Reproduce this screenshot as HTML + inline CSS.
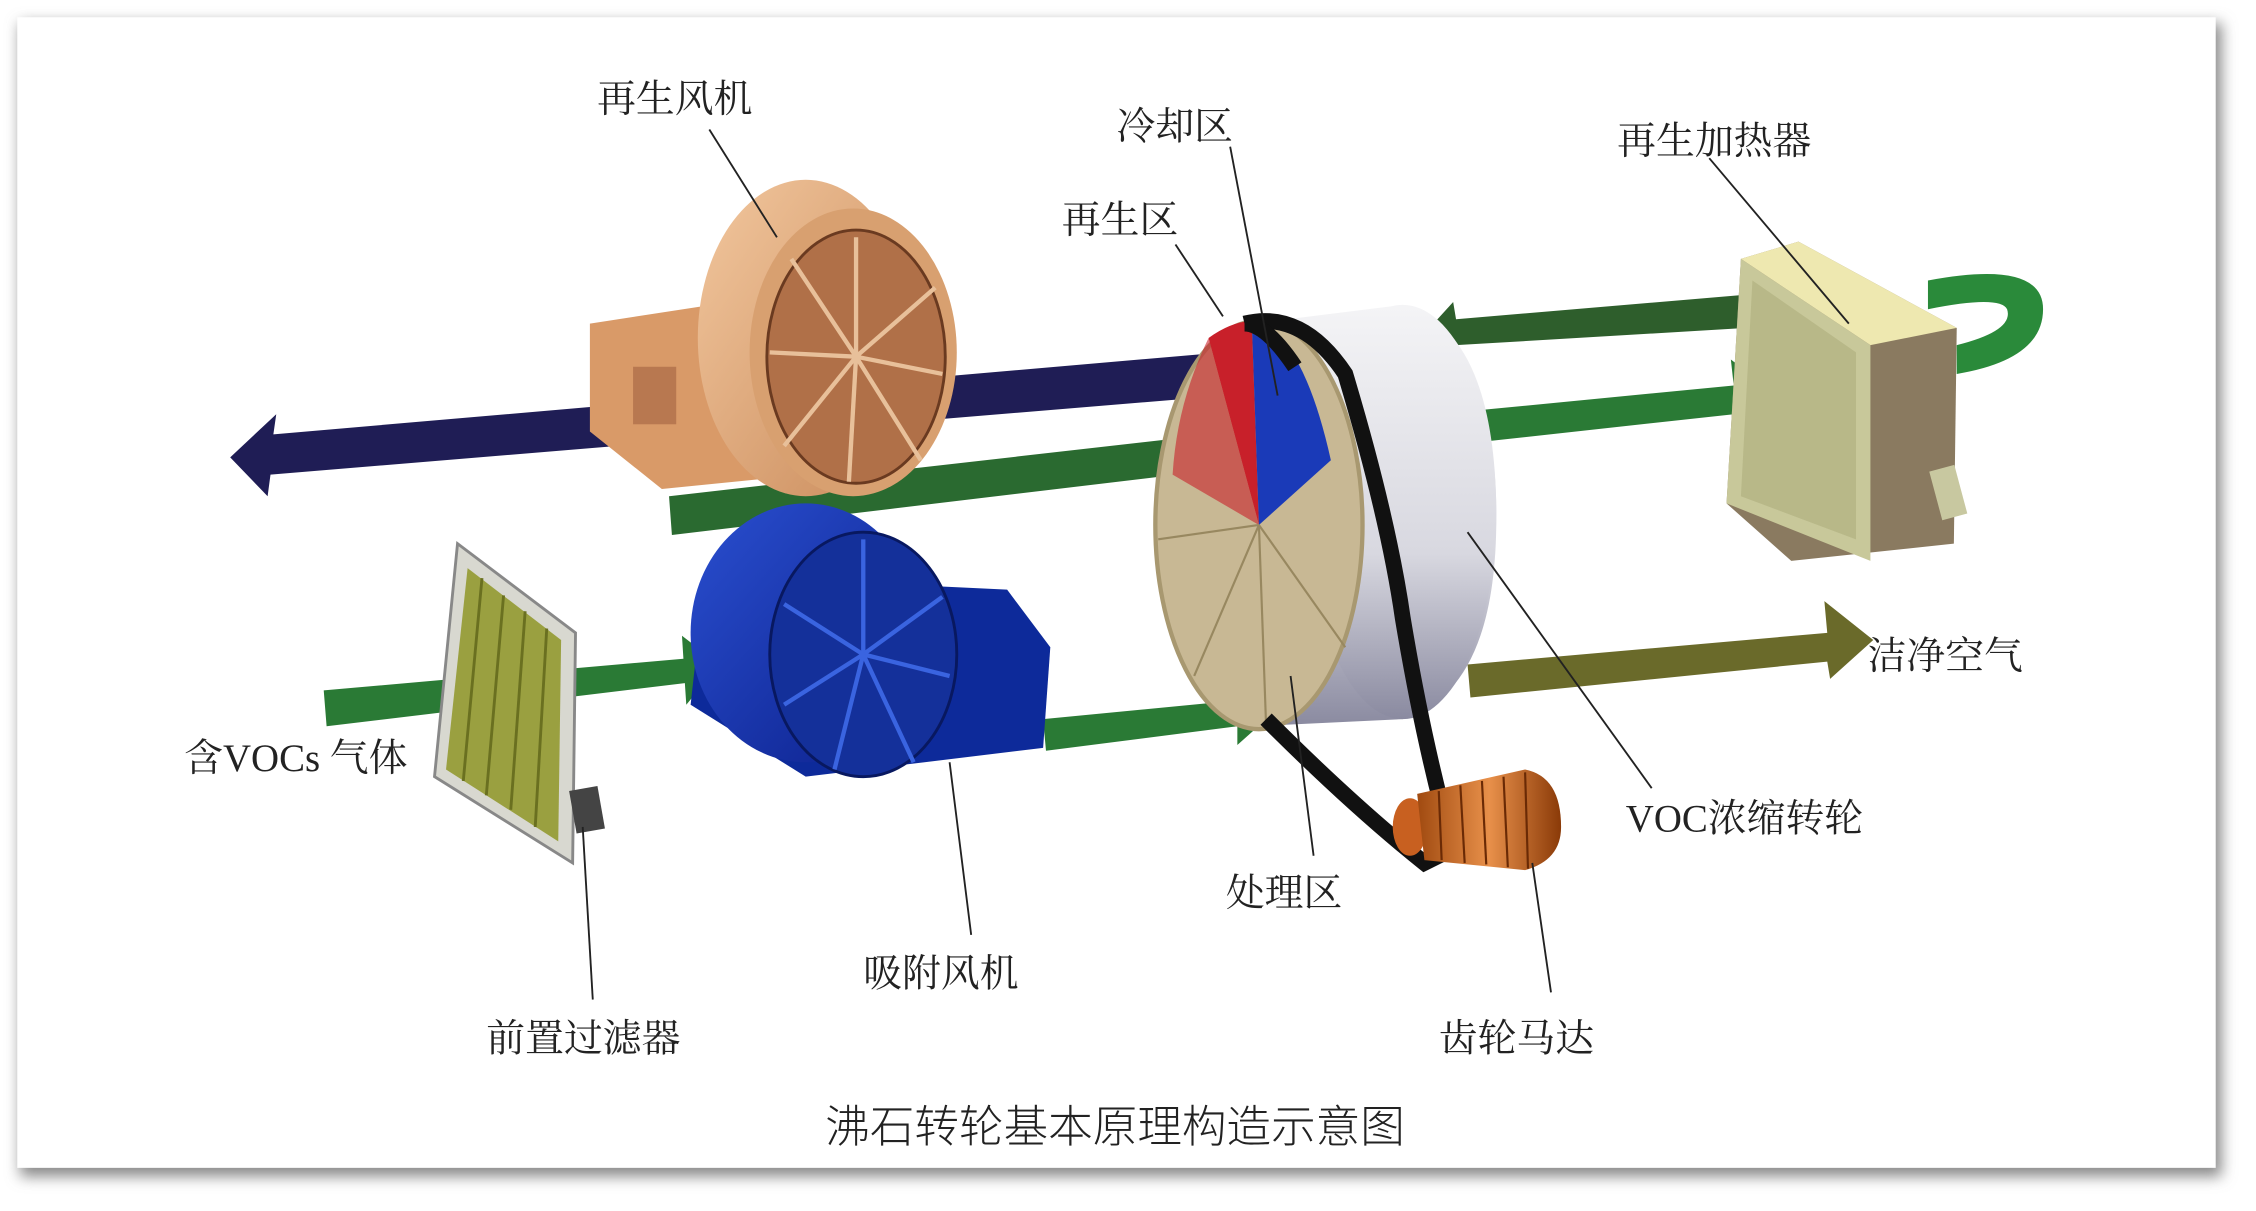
<!DOCTYPE html>
<html><head><meta charset="utf-8"><style>
html,body{margin:0;padding:0;background:#fff;}
svg{display:block;}
text{font-family:"Liberation Serif","Noto Serif CJK SC",serif;fill:#222;}
</style></head><body>
<svg width="2256" height="1211" viewBox="0 0 1568 842" preserveAspectRatio="none" xmlns="http://www.w3.org/2000/svg">
<defs>
<filter id="sh" x="-5%" y="-5%" width="110%" height="115%"><feGaussianBlur stdDeviation="5"/></filter>
<linearGradient id="cyl" x1="0" y1="0" x2="0" y2="1"><stop offset="0" stop-color="#f4f4f6"/><stop offset="0.6" stop-color="#d8d8e0"/><stop offset="1" stop-color="#8a8aa0"/></linearGradient>
<linearGradient id="org" x1="0" y1="0" x2="1" y2="1"><stop offset="0" stop-color="#f2c79e"/><stop offset="1" stop-color="#c98a5a"/></linearGradient>
<linearGradient id="blu" x1="0" y1="0" x2="1" y2="1"><stop offset="0" stop-color="#2a4fd0"/><stop offset="1" stop-color="#0b1f8a"/></linearGradient>
<linearGradient id="mot" x1="0" y1="0" x2="1" y2="0"><stop offset="0" stop-color="#a04a10"/><stop offset="0.5" stop-color="#e8904a"/><stop offset="1" stop-color="#8a3a08"/></linearGradient>
</defs>
<rect x="14" y="16" width="1530" height="802" fill="#888" filter="url(#sh)"/>
<rect x="12" y="12" width="1528" height="800" fill="#fff"/>

<polygon points="850,245 190,302 192,288 160,318 186,345 188,330 852,275" fill="#1f1d55"/>
<polygon points="465,345 860,300 858,286 882,308 860,338 860,325 467,372" fill="#2a6a30"/>
<polygon points="1212,205 1012,222 1010,210 990,232 1012,252 1012,240 1214,228" fill="#2e5e2c"/>
<polygon points="1030,285 1205,268 1203,250 1232,272 1206,298 1205,288 1032,307" fill="#2a7a35"/>
<polygon points="1020,462 1270,440 1268,418 1302,445 1272,472 1270,460 1022,485" fill="#6a6a2a"/>
<polygon points="225,480 475,458 474,442 500,462 477,490 476,475 227,505" fill="#2a7a35"/>
<polygon points="725,500 860,487 858,470 888,493 860,518 860,505 727,522" fill="#2a7a35"/>

<polygon points="410,225 540,205 560,330 460,340 410,300" fill="#d99a68"/>
<rect x="440" y="255" width="30" height="40" fill="#b87850"/>
<ellipse cx="560" cy="235" rx="75" ry="110" fill="url(#org)"/>
<ellipse cx="593" cy="245" rx="72" ry="100" fill="#d8a070"/>
<ellipse cx="595" cy="248" rx="62" ry="88" fill="#b07048" stroke="#6a3a20" stroke-width="2"/>
<g stroke="#e8c09a" stroke-width="3">
<line x1="595" y1="248" x2="595" y2="165"/><line x1="595" y1="248" x2="650" y2="200"/><line x1="595" y1="248" x2="655" y2="260"/><line x1="595" y1="248" x2="640" y2="320"/><line x1="595" y1="248" x2="590" y2="335"/><line x1="595" y1="248" x2="545" y2="310"/><line x1="595" y1="248" x2="535" y2="245"/><line x1="595" y1="248" x2="550" y2="180"/>
</g>

<polygon points="490,400 700,410 730,450 725,520 560,540 480,490" fill="#0d2a9a"/>
<ellipse cx="560" cy="440" rx="80" ry="90" fill="url(#blu)"/>
<ellipse cx="600" cy="455" rx="65" ry="85" fill="#14309a" stroke="#081860" stroke-width="2"/>
<g stroke="#3a64e0" stroke-width="3">
<line x1="600" y1="455" x2="600" y2="375"/><line x1="600" y1="455" x2="655" y2="415"/><line x1="600" y1="455" x2="660" y2="470"/><line x1="600" y1="455" x2="635" y2="530"/><line x1="600" y1="455" x2="580" y2="535"/><line x1="600" y1="455" x2="545" y2="490"/><line x1="600" y1="455" x2="545" y2="420"/>
</g>

<polygon points="318,378 400,440 398,600 302,540" fill="#d8d8d0" stroke="#888" stroke-width="2"/>
<polygon points="325,395 390,445 388,585 310,535" fill="#9aa040"/>
<g stroke="#6a7020" stroke-width="2">
<line x1="335" y1="402" x2="322" y2="543"/><line x1="350" y1="414" x2="338" y2="553"/><line x1="365" y1="425" x2="355" y2="563"/><line x1="380" y1="437" x2="372" y2="575"/>
</g>
<rect x="398" y="548" width="20" height="30" fill="#444" transform="rotate(-10 408 563)"/>

<path d="M870,225 L975,212 Q1040,230 1040,360 Q1040,480 975,500 L870,505 Z" fill="url(#cyl)"/>
<ellipse cx="975" cy="356" rx="65" ry="144" fill="url(#cyl)"/>
<ellipse cx="875" cy="365" rx="72" ry="142" fill="#c8b894" stroke="#a89870" stroke-width="3"/>
<path d="M875,365 L840,235 Q855,224 870,223 Z" fill="#c8202a"/>
<path d="M875,365 L870,223 Q905,230 925,320 Z" fill="#1a3ab8"/>
<path d="M875,365 L840,235 Q818,280 815,330 Z" fill="#c8202a" opacity="0.6"/>
<g stroke="#988860" stroke-width="1.5"><line x1="875" y1="365" x2="805" y2="375"/><line x1="875" y1="365" x2="830" y2="470"/><line x1="875" y1="365" x2="880" y2="505"/><line x1="875" y1="365" x2="935" y2="450"/></g>
<path d="M865,225 Q905,215 935,260 Q965,360 975,430 Q990,520 1010,590 L990,600 Q940,560 880,500" fill="none" stroke="#111" stroke-width="11"/>
<path d="M865,225 Q880,225 900,255" fill="none" stroke="#111" stroke-width="11"/>
<ellipse cx="980" cy="575" rx="12" ry="20" fill="#c86020"/>
<path d="M985,552 L1060,535 Q1085,540 1085,575 Q1085,598 1060,605 L990,598 Z" fill="url(#mot)"/>
<g stroke="#6a2a05" stroke-width="1.5"><line x1="1000" y1="550" x2="1002" y2="598"/><line x1="1015" y1="546" x2="1018" y2="600"/><line x1="1030" y1="543" x2="1033" y2="601"/><line x1="1045" y1="540" x2="1048" y2="603"/><line x1="1060" y1="537" x2="1062" y2="604"/></g>

<path d="M1340,195 Q1420,180 1420,215 Q1420,250 1360,260 L1360,240 Q1400,230 1395,215 Q1390,205 1340,215 Z" fill="#2a8a3a"/>
<polygon points="1210,180 1250,168 1360,228 1358,378 1245,390 1200,350" fill="#8a7a60"/>
<polygon points="1210,180 1250,168 1360,228 1300,240" fill="#eee8b0"/>
<polygon points="1210,180 1300,240 1300,390 1200,350" fill="#c8c89a"/>
<polygon points="1218,195 1290,245 1290,375 1210,345" fill="#b0b080" opacity="0.7"/>
<rect x="1345" y="325" width="18" height="35" fill="#c8c8a0" transform="rotate(-15 1354 342)"/>

<g stroke="#222" stroke-width="1.3" fill="none">
<line x1="493" y1="90" x2="540" y2="165"/>
<line x1="855" y1="102" x2="888" y2="275"/>
<line x1="817" y1="170" x2="850" y2="220"/>
<line x1="1188" y1="110" x2="1285" y2="225"/>
<line x1="1020" y1="370" x2="1148" y2="548"/>
<line x1="897" y1="470" x2="913" y2="595"/>
<line x1="1065" y1="600" x2="1078" y2="690"/>
<line x1="660" y1="530" x2="675" y2="650"/>
<line x1="405" y1="575" x2="412" y2="695"/>
</g>

<g font-size="27">
<text x="415" y="78">再生风机</text>
<text x="776" y="97">冷却区</text>
<text x="738" y="162">再生区</text>
<text x="1124" y="107">再生加热器</text>
<text x="1298" y="465">洁净空气</text>
<text x="128" y="536">含VOCs 气体</text>
<text x="1130" y="578">VOC浓缩转轮</text>
<text x="852" y="630">处理区</text>
<text x="600" y="686">吸附风机</text>
<text x="338" y="731">前置过滤器</text>
<text x="1000" y="731">齿轮马达</text>
</g>
<text x="775" y="794" font-size="31" text-anchor="middle" style="font-family:'Liberation Sans','Noto Sans CJK SC',sans-serif;font-weight:300">沸石转轮基本原理构造示意图</text>
</svg>
</body></html>
